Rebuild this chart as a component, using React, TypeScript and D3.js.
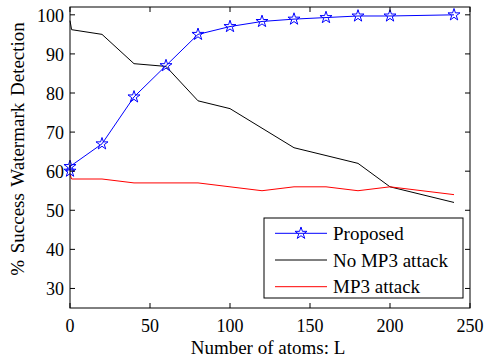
import React, { useEffect } from "react";
import * as d3 from "d3";

const xProposed = [0, 0, 20, 40, 60, 80, 100, 120, 140, 160, 180, 200, 240];
const proposed = [60, 61.2, 67, 79, 87, 95, 97, 98.3, 98.9, 99.3, 99.7, 99.7, 100];
const xOther = [0, 1, 20, 40, 60, 80, 100, 120, 140, 160, 180, 200, 240];
const noMp3 = [98.5, 96.2, 95, 87.5, 86.8, 78, 76, 71, 66, 64, 62, 56, 52];
const mp3 = [59.2, 58, 58, 57, 57, 57, 56, 55, 56, 56, 55, 56, 54];
const xTicks = [0, 50, 100, 150, 200, 250];
const yTicks = [30, 40, 50, 60, 70, 80, 90, 100];
const legendLabels = ["Proposed", "No MP3 attack", "MP3 attack"];

const W = 484;
const H = 361;
const mLeft = 70;
const mRight = 470;
const mTop = 7;
const mBottom = 308;
const SERIF = "Liberation Serif";

export default function App() {
  useEffect(() => {
    document.body.style.margin = "0";
  }, []);

  const x = d3.scaleLinear().domain([0, 250]).range([mLeft, mRight]);
  const y = d3.scaleLinear().domain([25, 102]).range([mBottom, mTop]);

  const line = d3
    .line<[number, number]>()
    .x((d) => x(d[0]))
    .y((d) => y(d[1]));

  const pProposed = line(xProposed.map((v, i) => [v, proposed[i]]) as [number, number][]) || "";
  const pNo = line(xOther.map((v, i) => [v, noMp3[i]]) as [number, number][]) || "";
  const pMp3 = line(xOther.map((v, i) => [v, mp3[i]]) as [number, number][]) || "";

  const star = d3.symbol().type(d3.symbolStar).size(45)() || "";

  const tl = 5;
  const legX = 264;
  const legY = 218;
  const legW = 199;
  const legH = 80;
  const rows = [233.3, 260, 286.7];
  const colors = ["#0000ff", "#000000", "#ff0000"];

  return (
    <svg width={W} height={H} style={{ display: "block", background: "#fff", fontFamily: SERIF }} fontFamily={SERIF}>
      <style>{`text { font-family: "Liberation Serif", serif; }`}</style>
      <rect x={0} y={0} width={W} height={H} fill="#fff" />
      <path d={pNo} fill="none" stroke="#000" strokeWidth={1} />
      <path d={pMp3} fill="none" stroke="#ff0000" strokeWidth={1} />
      <path d={pProposed} fill="none" stroke="#0000ff" strokeWidth={1} />
      {xProposed.map((v, i) => (
        <path
          key={i}
          d={star}
          transform={`translate(${x(v)},${y(proposed[i])})`}
          fill="none"
          stroke="#0000ff"
          strokeWidth={1}
        />
      ))}
      <rect x={mLeft} y={mTop} width={mRight - mLeft} height={mBottom - mTop} fill="none" stroke="#000" strokeWidth={1} />
      {xTicks.map((t) => (
        <g key={"x" + t}>
          <line x1={x(t)} x2={x(t)} y1={mBottom} y2={mBottom - tl} stroke="#000" />
          <line x1={x(t)} x2={x(t)} y1={mTop} y2={mTop + tl} stroke="#000" />
          <text x={x(t)} y={332} fontSize={18} textAnchor="middle" fill="#000" fontFamily={SERIF}>
            {t}
          </text>
        </g>
      ))}
      {yTicks.map((t) => (
        <g key={"y" + t}>
          <line x1={mLeft} x2={mLeft + tl} y1={y(t)} y2={y(t)} stroke="#000" />
          <line x1={mRight} x2={mRight - tl} y1={y(t)} y2={y(t)} stroke="#000" />
          <text x={64} y={y(t) + 7} fontSize={18} textAnchor="end" fill="#000" fontFamily={SERIF}>
            {t}
          </text>
        </g>
      ))}
      <text x={268} y={354} fontSize={19} textAnchor="middle" fill="#000" fontFamily={SERIF}>
        Number of atoms: L
      </text>
      <text
        transform={`translate(24,149) rotate(-90)`}
        fontSize={19}
        textAnchor="middle"
        fill="#000"
        fontFamily={SERIF}
        style={{ wordSpacing: "2px" }}
      >
        % Success Watermark Detection
      </text>
      <rect x={legX} y={legY} width={legW} height={legH} fill="#fff" stroke="#000" strokeWidth={1} />
      {legendLabels.map((lab, i) => (
        <g key={lab}>
          <line x1={275} x2={327} y1={rows[i]} y2={rows[i]} stroke={colors[i]} strokeWidth={1} />
          {i === 0 && (
            <path d={star} transform={`translate(301,${rows[i]})`} fill="none" stroke="#0000ff" strokeWidth={1} />
          )}
          <text x={333} y={rows[i] + 6.5} fontSize={19} fill="#000" fontFamily={SERIF}>
            {lab}
          </text>
        </g>
      ))}
    </svg>
  );
}
